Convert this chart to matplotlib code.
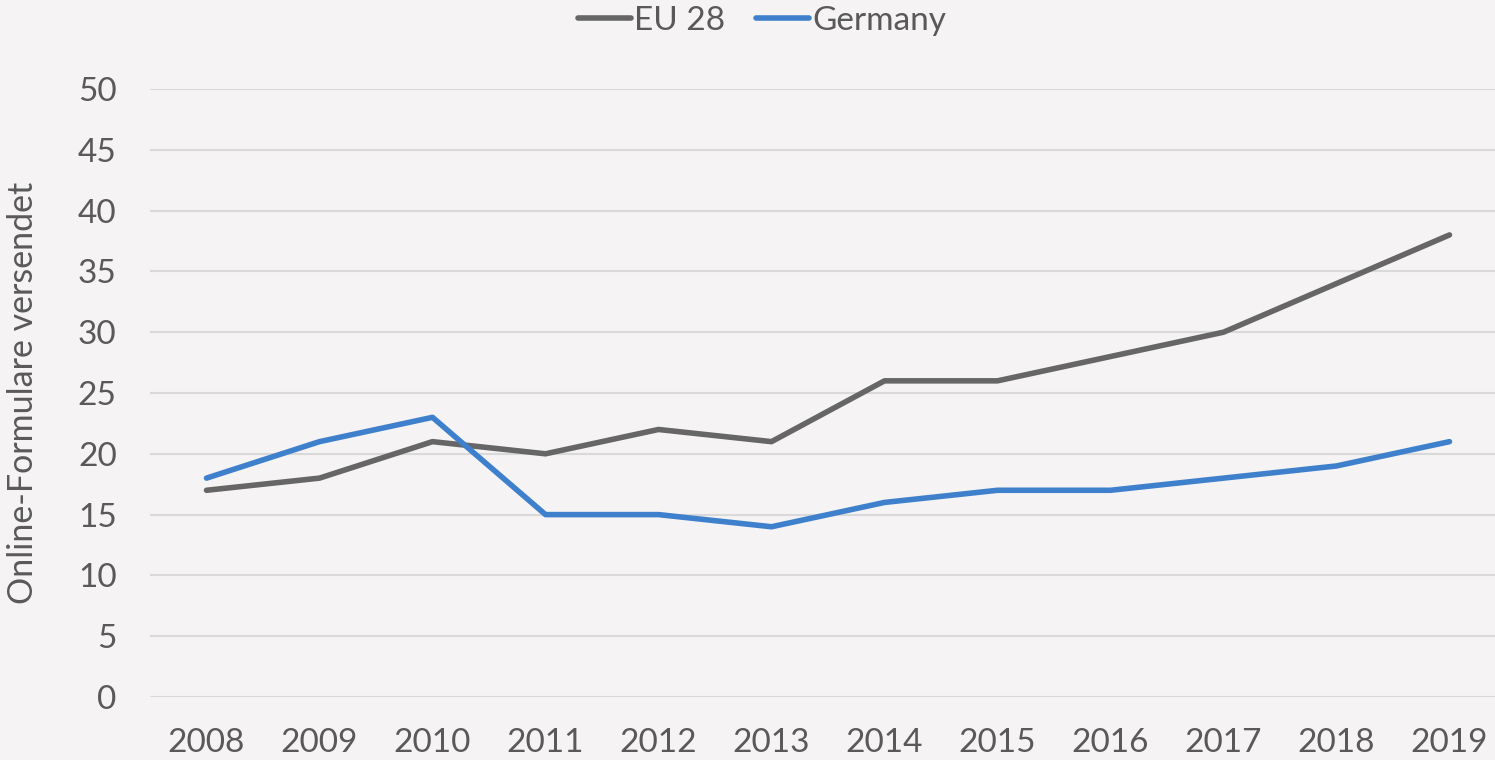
import numpy as np
import matplotlib; matplotlib.use("Agg")
import matplotlib.pyplot as plt

years = [2008, 2009, 2010, 2011, 2012, 2013, 2014, 2015, 2016, 2017, 2018, 2019]
eu28 = [17, 18, 21, 20, 22, 21, 26, 26, 28, 30, 34, 38]
germany = [18, 21, 23, 15, 15, 14, 16, 17, 17, 18, 19, 21]
y_ticks = [0, 5, 10, 15, 20, 25, 30, 35, 40, 45, 50]

BG = "#F5F3F4"
TXT = "#595959"
plt.rcParams["font.family"] = ["Lato", "DejaVu Sans"]

fig = plt.figure(figsize=(14.95, 7.6), dpi=100, facecolor=BG)
W, H = 1495, 760
ax = fig.add_axes([150 / W, 1 - 697 / H, (1506 - 150) / W, (697 - 89) / H])
ax.set_facecolor(BG)

ax.plot(years, eu28, color="#666666", lw=4, label="EU 28", solid_capstyle="round")
ax.plot(years, germany, color="#3F80CC", lw=4, label="Germany", solid_capstyle="round")

ax.set_xlim(2007.5, 2019.5)
ax.set_ylim(0, 50)
ax.set_yticks(y_ticks)
ax.set_xticks(years)
ax.grid(axis="y", color="#D9D9D9", lw=1.5)
ax.set_axisbelow(True)
for s in ax.spines.values():
    s.set_visible(False)
ax.tick_params(length=0, labelsize=24, colors=TXT)
ax.tick_params(axis="y", pad=24)
ax.tick_params(axis="x", pad=22)
ax.set_ylabel("Online-Formulare versendet", fontsize=24.5, color=TXT, labelpad=28)

ax.legend(loc="center", bbox_to_anchor=(762 / W, 1 - 21 / H), bbox_transform=fig.transFigure,
          ncol=2, frameon=False, fontsize=24, labelcolor=TXT, handlelength=1.6,
          handletextpad=0.1, columnspacing=0.9)

fig.savefig("out.png", dpi=100, facecolor=fig.get_facecolor())
